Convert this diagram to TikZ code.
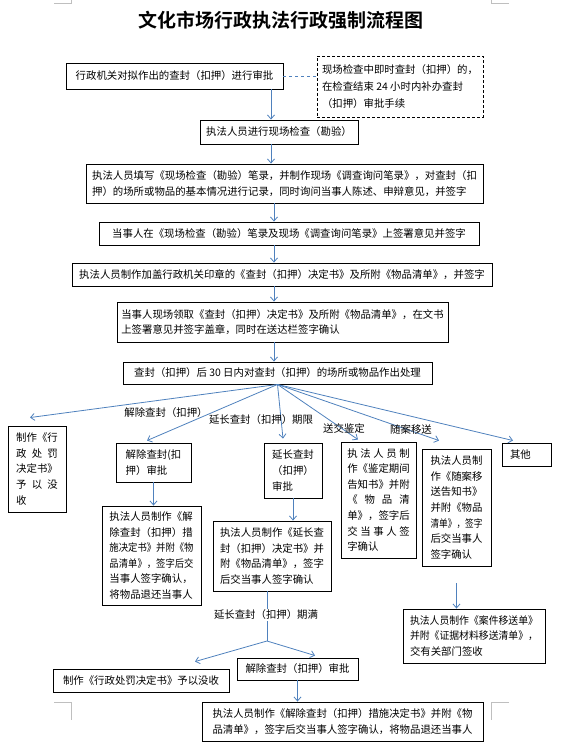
\documentclass[tikz,border=0pt]{standalone}
\usepackage{fontspec}
\usepackage{graphicx}
\setmainfont{Noto Sans CJK SC}[BoldFont={Noto Sans CJK SC Bold}]
\usetikzlibrary{arrows.meta}
\definecolor{flowB}{RGB}{79,129,189}
\definecolor{markG}{RGB}{191,191,191}
\newcommand\spread[2]{\makebox[#1][s]{#2}}
\newcommand\squeeze[2]{\resizebox{#1}{\height}{#2}}

\begin{document}
\begin{tikzpicture}[x=1pt,y=-1pt,>={Straight Barb[length=4pt,width=7pt]},
  font=\fontsize{10.4}{15.6}\selectfont,
  box/.style 2 args={draw,line width=0.9pt,inner sep=0pt,align=left,minimum width=#1,minimum height=#2},
  link/.style={->,flowB,line width=0.8pt},
  tag/.style={inner sep=1pt}]
\useasboundingbox (0,0) rectangle (565,754);
% page corner marks
\draw[markG,line width=0.6pt] (54,3) -- (71,3) -- (71,0); \draw[markG,line width=0.6pt] (509,3) -- (491,3) -- (491,0);
\draw[markG,line width=0.6pt] (54,702) -- (71,702) -- (71,720); \draw[markG,line width=0.6pt] (509,702) -- (491,702) -- (491,720);
\node[font=\fontsize{19}{22}\selectfont\bfseries] (title) at (281,20) {文化市场行政执法行政强制流程图};
% main column
\node[box={217}{26}] (req) at (174.5,76) {行政机关对拟作出的查封（扣押）进行审批};
\node[box={166}{61},dash pattern=on 3pt off 2pt,font=\fontsize{10.4}{17}\selectfont] (later) at (400,86.5) {现场检查中即时查封（扣押）的，\\在检查结束 24 小时内补办查封\\（扣押）审批手续};
\node[box={158}{24}] (insp) at (279,132) {执法人员进行现场检查（勘验）};
\node[box={397}{39}] (record) at (284.5,183.5) {执法人员填写《现场检查（勘验）笔录，并制作现场《调查询问笔录》，对查封（扣\\押）的场所或物品的基本情况进行记录，同时询问当事人陈述、申辩意见，并签字};
\node[box={380}{23}] (sign) at (289,233.5) {当事人在《现场检查（勘验）笔录及现场《调查询问笔录》上签署意见并签字};
\node[box={420}{23}] (decide) at (282,274.5) {执法人员制作加盖行政机关印章的《查封（扣押）决定书》及所附《物品清单》，并签字};
\node[box={331}{40}] (receive) at (282.5,322) {当事人现场领取《查封（扣押）决定书》及所附《物品清单》，在文书\\上签署意见并签字盖章，同时在送达栏签字确认};
\node[box={309}{22}] (dispose) at (277.5,373) {查封（扣押）后 30 日内对查封（扣押）的场所或物品作出处理};
\coordinate (spineA) at (271,0); \coordinate (spineB) at (274,0);
\draw[flowB,line width=0.8pt,dashed] (req.east) -- (req.east -| later.west);
\draw[link] (req.south -| spineA) -- (insp.north -| spineA);
\draw[link] (insp.south -| spineA) -- (record.north -| spineA);
\draw[link] (record.south -| spineB) -- (sign.north -| spineB);
\draw[link] (sign.south -| spineB) -- (decide.north -| spineB);
\draw[link] (decide.south -| spineB) -- (receive.north -| spineB);
\draw[link] (receive.south -| spineB) -- (dispose.north -| spineB);
% branches
\node[box={58}{86}] (confA) at (37,469) {制作《行\\\spread{41.6pt}{政 处 罚}\\决定书》\\\spread{41.6pt}{予 以 没}\\收};
\node[box={75}{39}] (liftA) at (153.5,462.5) {解除查封(扣\\押）审批};
\node[box={58}{55}] (extA) at (293,470.5) {延长查封\\（扣押）\\审批};
\node[box={75}{116}] (appr) at (378.5,500) {\spread{62.4pt}{执 法 人 员 制}\\作《鉴定期间\\告知书》并附\\\spread{62.4pt}{《 物 品 清}\\单》，签字后\\\spread{62.4pt}{交 当 事 人 签}\\字确认};
\node[box={69}{117}] (trans) at (456.5,507.5) {执法人员制\\作《随案移\\送告知书》\\并附《物品\\\squeeze{52pt}{清单》，签字}\\后交当事人\\签字确认};
\node[box={49}{23},text width=33pt] (other) at (526.5,454.5) {其他};
\foreach \t/\dx/\dy in {confA/-7/-8,liftA/-6.5/-2,extA/-10/-4,appr/-20.5/-2,trans/-17.5/-8,other/-13.5/-2}
  \draw[link] (dispose.south) -- ([shift={(\dx,\dy)}]\t.north);
\node[tag] (lblLift) at (166,413) {解除查封（扣押）};
\node[tag] (lblExt) at (261,420) {延长查封（扣押）期限};
\node[tag] (lblAppr) at (344,429) {送交鉴定};
\node[tag] (lblTrans) at (411,430) {随案移送};
% second level
\node[box={99}{99}] (liftB) at (151.5,555.5) {执法人员制作《解\\除查封（扣押）措\\\squeeze{84pt}{施决定书》并附《物}\\\squeeze{84pt}{品清单》，签字后交}\\当事人签字确认，\\将物品退还当事人};
\node[box={118}{70}] (extB) at (272,556) {执法人员制作《延长查\\封（扣押）决定书》并\\附《物品清单》，签字\\后交当事人签字确认};
\node[box={142}{54}] (case) at (474,636) {\squeeze{128pt}{执法人员制作《案件移送单》}\\\squeeze{128pt}{并附《证据材料移送清单》，}\\交有关部门签收};
\draw[link] (liftA.south) -- (liftA.south |- liftB.north);
\draw[link] (extA.south) -- (extA.south |- extB.north);
\coordinate (caseIn) at ([yshift=-17pt]trans.south);
\draw[link] (caseIn) -- (caseIn |- case.north);
% expiry of extension
\node[box={176}{23}] (confB) at (141,680.5) {制作《行政处罚决定书》予以没收};
\node[box={121}{22}] (liftC) at (297.5,669) {解除查封（扣押）审批};
\node[box={281}{39}] (lastB) at (342.5,721.5) {执法人员制作《解除查封（扣押）措施决定书》并附《物\\品清单》，签字后交当事人签字确认，将物品退还当事人};
\coordinate (split) at (267,641);
\draw[flowB,line width=0.8pt] (extB.south -| split) -- (split);
\node[tag,fill=white] (lblEnd) at (266,615) {延长查封（扣押）期满};
\draw[link] (split) -- ([shift={(54,-7)}]confB.north);
\draw[link] (split) -- ([shift={(17.5,-2)}]liftC.north);
\draw[link] (liftC.south) -- (liftC.south |- lastB.north);
\end{tikzpicture}
\end{document}
